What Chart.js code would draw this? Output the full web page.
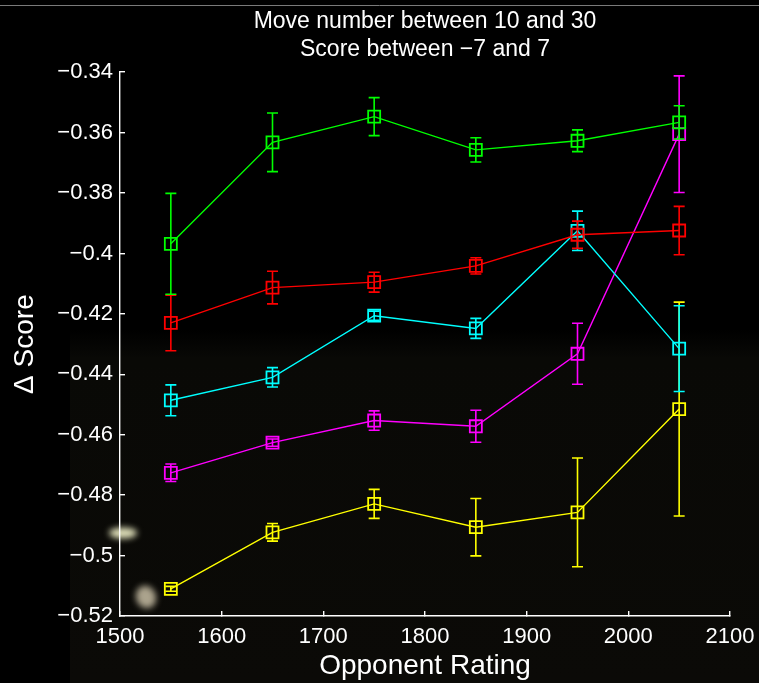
<!DOCTYPE html>
<html>
<head>
<meta charset="utf-8">
<script src="https://cdn.jsdelivr.net/npm/chart.js@4/dist/chart.umd.min.js"></script>
<style>
  html, body { margin: 0; padding: 0; background: #000; }
  canvas { display: block; }
</style>
</head>
<body>
<canvas id="chart" width="759" height="683"></canvas>
<script>
// Opponent rating bins (bin centres)
const ratings = [1550, 1650, 1750, 1850, 1950, 2050];

// Axis ticks
const xTicks = [1500, 1600, 1700, 1800, 1900, 2000, 2100];
const yTicks = [-0.52, -0.50, -0.48, -0.46, -0.44, -0.42, -0.40, -0.38, -0.36, -0.34];

// Mean score change per group and its error half-width
const greenMean   = [-0.3968, -0.3632, -0.3547, -0.3657, -0.3627, -0.3566];
const greenErr    = [ 0.0167,  0.0097,  0.0063,  0.0040,  0.0036,  0.0055];
const redMean     = [-0.4230, -0.4113, -0.4095, -0.4041, -0.3938, -0.3924];
const redErr      = [ 0.0092,  0.0054,  0.0033,  0.0027,  0.0045,  0.0080];
const cyanMean    = [-0.4486, -0.4410, -0.4206, -0.4248, -0.3925, -0.4315];
const cyanErr     = [ 0.0051,  0.0032,  0.0015,  0.0033,  0.0065,  0.0142];
const magentaMean = [-0.4726, -0.4626, -0.4553, -0.4572, -0.4332, -0.3605];
const magentaErr  = [ 0.0029,  0.0012,  0.0032,  0.0053,  0.0101,  0.0193];
const yellowMean  = [-0.5110, -0.4923, -0.4829, -0.4906, -0.4857, -0.4515];
const yellowErr   = [ 0.0008,  0.0029,  0.0048,  0.0095,  0.0180,  0.0354];

const titleLines = ['Move number between 10 and 30', 'Score between \u22127 and 7'];
const xTitle = 'Opponent Rating';
const yTitle = '\u0394 Score';

const FONT = '"Liberation Sans", Arial, Helvetica, sans-serif';
const FG = '#ffffff';

function series(color, mean, err) {
  return {
    data: ratings.map((x, i) => ({ x: x, y: mean[i] })),
    errors: err,
    borderColor: color,
    backgroundColor: 'transparent',
    borderWidth: 1.4,
    pointStyle: 'rect',
    pointRadius: 8.5,
    pointBorderWidth: 1.8,
    pointBorderColor: color,
    pointBackgroundColor: 'transparent',
    tension: 0
  };
}

// Vertical error bars with caps, drawn right after each dataset
const errorBars = {
  id: 'errorBars',
  afterDatasetDraw(chart, args) {
    const ds = chart.data.datasets[args.index];
    if (!ds.errors) return;
    const y = chart.scales.y;
    const ctx = chart.ctx;
    const cap = 5.5;
    ctx.save();
    ctx.strokeStyle = ds.borderColor;
    ctx.lineWidth = 1.6;
    args.meta.data.forEach((pt, i) => {
      const v = ds.data[i].y, e = ds.errors[i];
      const top = y.getPixelForValue(v + e);
      const bot = y.getPixelForValue(v - e);
      ctx.beginPath();
      ctx.moveTo(pt.x, top); ctx.lineTo(pt.x, bot);
      ctx.moveTo(pt.x - cap, top); ctx.lineTo(pt.x + cap, top);
      ctx.moveTo(pt.x - cap, bot); ctx.lineTo(pt.x + cap, bot);
      ctx.stroke();
    });
    ctx.restore();
  }
};

// Dark backdrop with the faint lower scene and the frame rule at the top
const backdrop = {
  id: 'backdrop',
  beforeDraw(chart) {
    const ctx = chart.ctx;
    const W = chart.width, H = chart.height;
    ctx.save();
    ctx.fillStyle = '#000';
    ctx.fillRect(0, 0, W, H);

    const g = ctx.createLinearGradient(0, 330, 0, H);
    g.addColorStop(0, 'rgba(9,9,6,0)');
    g.addColorStop(0.08, 'rgba(9,9,6,1)');
    g.addColorStop(1, 'rgba(11,10,7,1)');
    ctx.fillStyle = g;
    ctx.fillRect(70, 330, W - 70, H - 330);

    ctx.filter = 'blur(3px)';
    ctx.fillStyle = 'rgba(235,235,195,0.95)';
    ctx.beginPath();
    ctx.ellipse(123, 533, 14, 5.5, 0, 0, Math.PI * 2);
    ctx.fill();
    ctx.fillStyle = 'rgba(200,190,165,0.85)';
    ctx.beginPath();
    ctx.ellipse(146, 597, 10, 11.5, -0.4, 0, Math.PI * 2);
    ctx.fill();
    ctx.filter = 'none';

    ctx.strokeStyle = '#7a7a7a';
    ctx.lineWidth = 1;
    ctx.beginPath();
    ctx.moveTo(0, 5.5); ctx.lineTo(W, 5.5);
    ctx.stroke();
    ctx.restore();
  }
};

function fmtY(v) {
  const s = String(Math.round(v * 100) / 100);
  return s.replace('-', '\u2212');
}

const axisLine = { display: true, color: FG, width: 1.4 };
const inwardTicks = { drawOnChartArea: false, drawTicks: true, tickLength: -5, color: FG, lineWidth: 1.4 };

new Chart(document.getElementById('chart'), {
  type: 'line',
  data: {
    datasets: [
      series('#00ff00', greenMean, greenErr),
      series('#ff0000', redMean, redErr),
      series('#00ffff', cyanMean, cyanErr),
      series('#ff00ff', magentaMean, magentaErr),
      series('#ffff00', yellowMean, yellowErr)
    ]
  },
  options: {
    responsive: false,
    animation: false,
    events: [],
    layout: { padding: { left: 0, right: 29, top: 0, bottom: 0 } },
    plugins: {
      legend: { display: false },
      tooltip: { enabled: false },
      title: {
        display: true,
        text: titleLines,
        color: FG,
        fullSize: false,
        font: { family: FONT, size: 23, weight: 'normal', lineHeight: 1.2 },
        padding: { top: 8, bottom: 9 }
      }
    },
    scales: {
      x: {
        type: 'linear',
        min: xTicks[0],
        max: xTicks[xTicks.length - 1],
        afterBuildTicks: s => { s.ticks = xTicks.map(v => ({ value: v })); },
        afterFit: s => { s.height = 67; s.paddingLeft = 0; s.paddingRight = 0; },
        grid: inwardTicks,
        border: axisLine,
        ticks: {
          color: FG,
          font: { family: FONT, size: 22 },
          padding: 13,
          maxRotation: 0,
          autoSkip: false,
          callback: v => String(v)
        },
        title: {
          display: true,
          text: xTitle,
          color: FG,
          font: { family: FONT, size: 28 },
          padding: { top: 0, bottom: 0 }
        }
      },
      y: {
        min: yTicks[0],
        max: yTicks[yTicks.length - 1],
        afterBuildTicks: s => { s.ticks = yTicks.map(v => ({ value: v })); },
        afterFit: s => { s.width = 120; },
        grid: inwardTicks,
        border: axisLine,
        ticks: {
          color: FG,
          font: { family: FONT, size: 22 },
          padding: 12,
          autoSkip: false,
          callback: v => fmtY(v)
        },
        title: {
          display: true,
          text: yTitle,
          color: FG,
          font: { family: FONT, size: 28 },
          padding: { top: 8, bottom: 0 }
        }
      }
    }
  },
  plugins: [backdrop, errorBars]
});
</script>
</body>
</html>
